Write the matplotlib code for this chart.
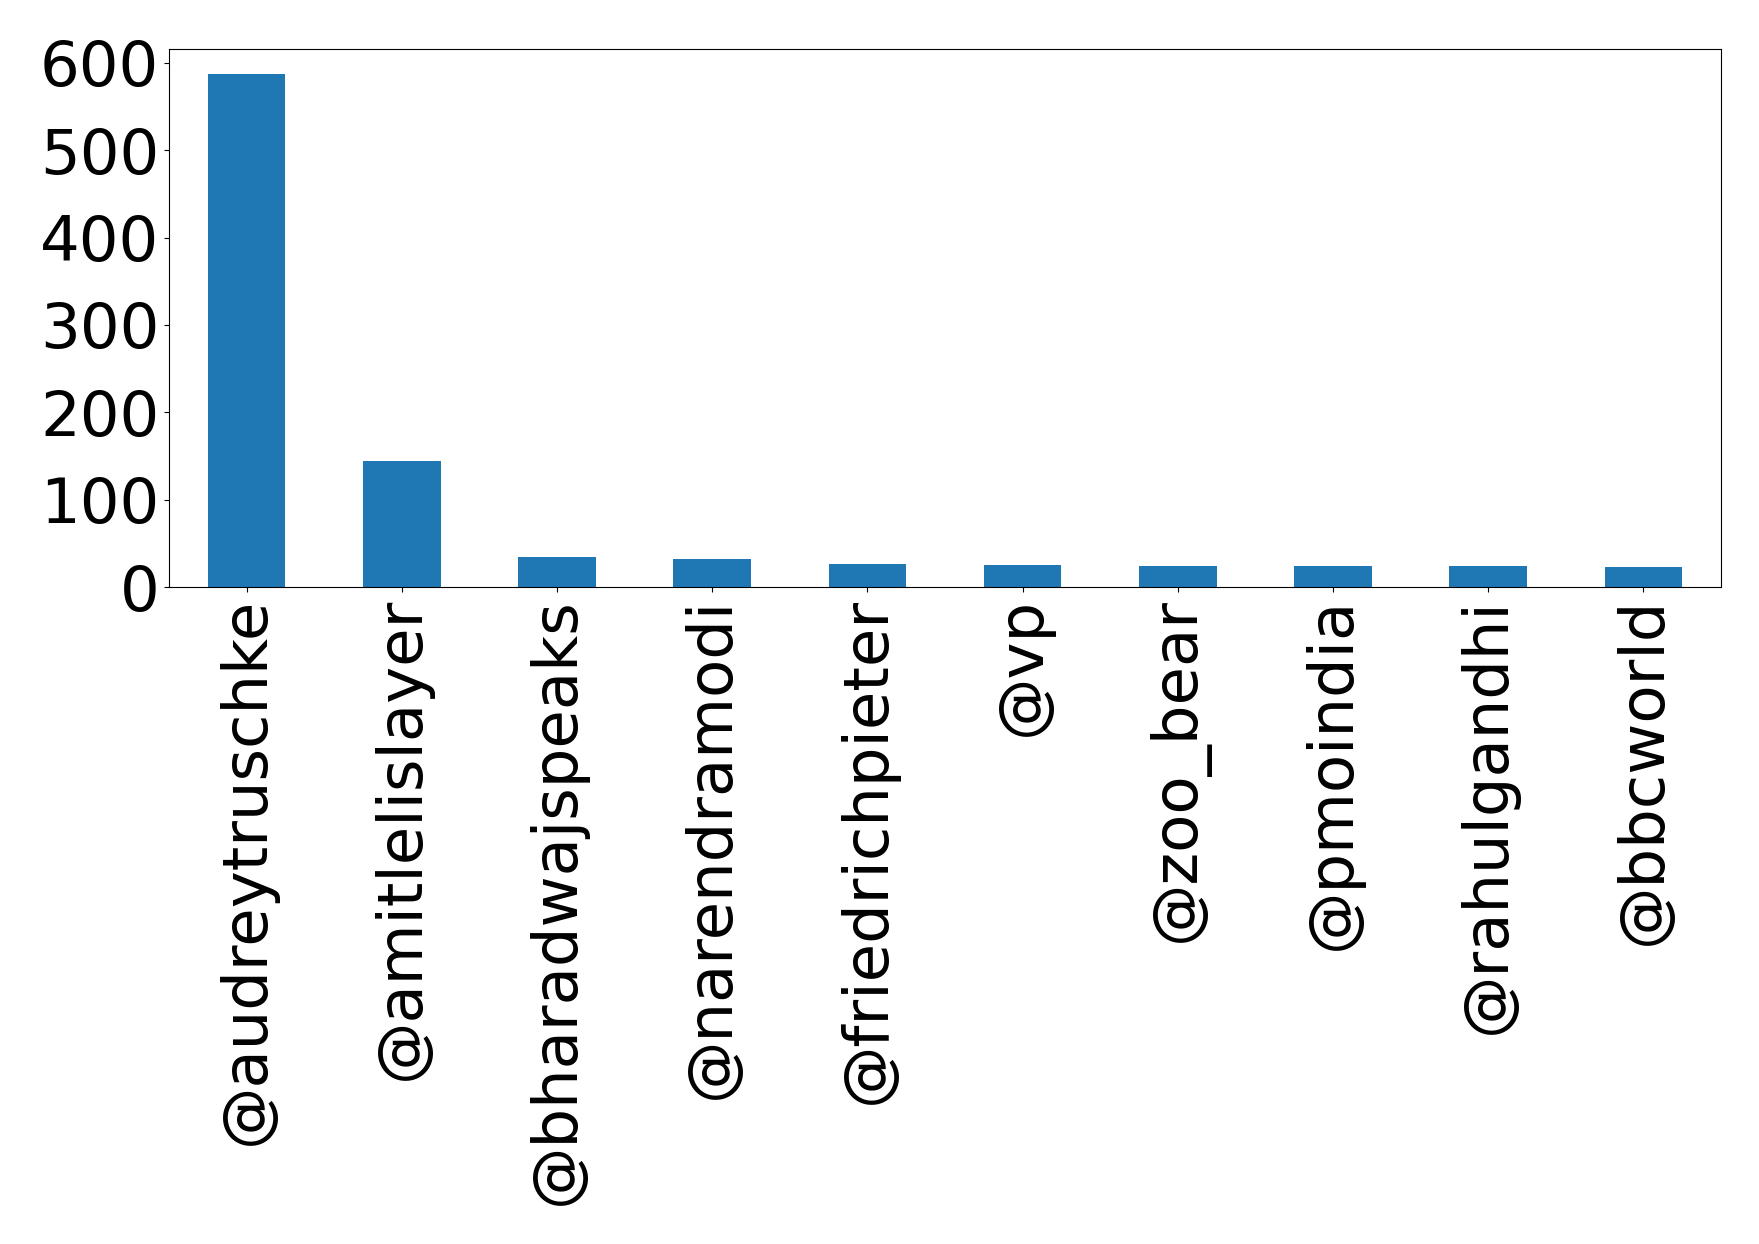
import matplotlib
matplotlib.use('Agg')
import matplotlib.pyplot as plt
import numpy as np

users = ['@audreytruschke', '@amitlelislayer', '@bharadwajspeaks', '@narendramodi',
         '@friedrichpieter', '@vp', '@zoo_bear', '@pmoindia', '@rahulgandhi', '@bbcworld']
counts = [587, 144, 34, 32, 26, 25, 24, 24, 24, 23]
yticks = [0, 100, 200, 300, 400, 500, 600]

fig = plt.figure(figsize=(17.59, 12.44), dpi=100)
ax = fig.add_axes([0.0961, 0.5281, 0.8823, 0.4328])

x = np.arange(len(users))
ax.bar(x, counts, width=0.5, color='#1f77b4')
ax.set_xlim(-0.5, len(users) - 0.5)
ax.set_ylim(0, max(counts) * 1.05)
ax.set_yticks(yticks)
ax.set_xticks(x)
ax.set_xticklabels(users, rotation=90)
ax.tick_params(axis='both', labelsize=45)

fig.savefig('out.png', dpi=100)
